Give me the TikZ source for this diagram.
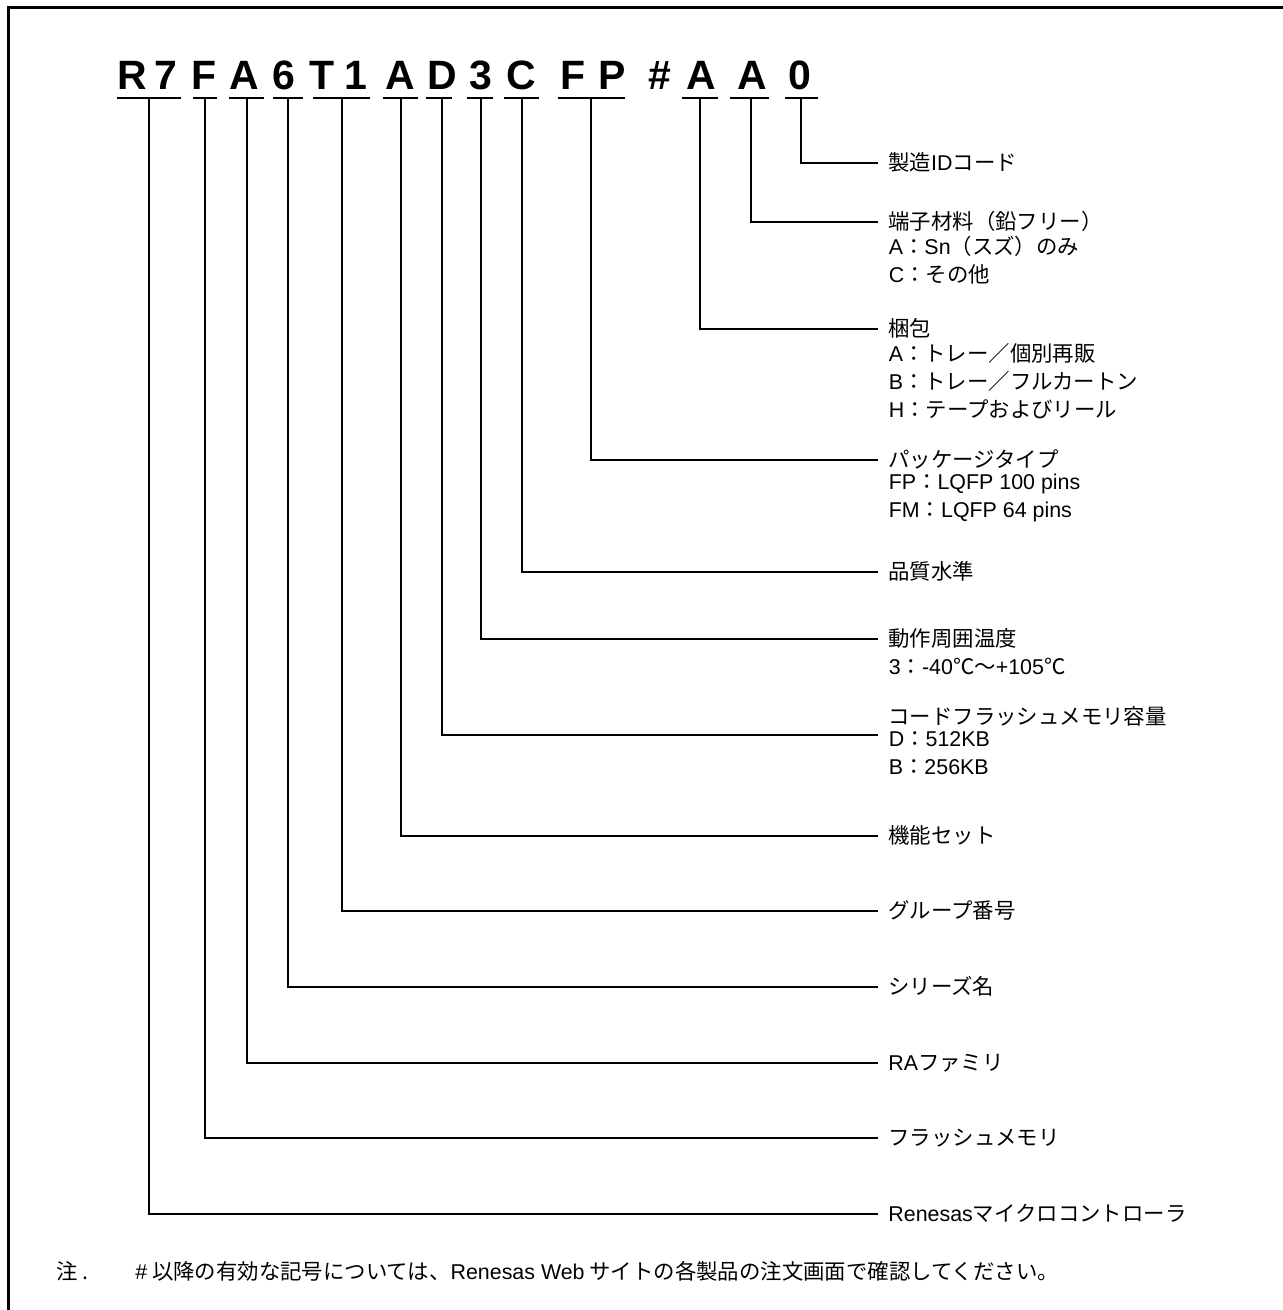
\documentclass[tikz,border=0pt]{standalone}
\usepackage{fontspec}
\setmainfont{Liberation Sans}
\newfontfamily\jp{Noto Sans CJK JP}
\newcommand\latn[1]{{\rmfamily #1}}
\newcommand\lstrut{\rule[-3.4pt]{0pt}{14pt}}
\tikzset{
  pn/.style={anchor=base, inner sep=0pt, font=\fontsize{20.5}{22}\selectfont\bfseries},
  lbl/.style={anchor=west, inner xsep=5pt, inner ysep=0pt, font=\fontsize{10.7}{14}\selectfont\jp, execute at begin node=\lstrut},
  sub/.style={anchor=north west, inner sep=0pt, align=left, font=\fontsize{10.7}{14}\selectfont\jp, execute at begin node=\lstrut},
  wire/.style={line width=0.75pt}
}
\begin{document}
\begin{tikzpicture}[x=0.5pt, y=-0.5pt]
\useasboundingbox (0,0) rectangle (1282,1310);
\draw [line width=1.5pt](8,1330)--(8,8)--(1300,8);

% part number
\foreach \ch/\x [count=\i] in {R/132,7/166,F/204,A/244,6/284,T/322,1/356,A/400,D/442,3/481,C/521,F/573,P/612,\#/660,A/701,A/752,0/800}
  \node [pn] (c\i) at (\x,90) {\ch};
\foreach \a/\b in {117/181,193/217,229/264,273/303,313/370,383/418,426/452,467/493,504/539,558/625,682/718,730/769,785/818}
  \draw [wire](\a,98)--(\b,98);

% labels
\node [lbl] (l-id) at (878,163) {製造\latn{ID}コード};
\node [lbl] (l-tanshi) at (878,222) {端子材料（鉛フリー）};
\node [sub] at ([yshift=-3.4pt]l-tanshi.text) {\latn{A}：\latn{Sn}（スズ）のみ\\\lstrut\latn{C}：その他};
\node [lbl] (l-konpo) at (878,329) {梱包};
\node [sub] at ([yshift=-3.4pt]l-konpo.text) {\latn{A}：トレー／個別再販\\\lstrut\latn{B}：トレー／フルカートン\\\lstrut\latn{H}：テープおよびリール};
\node [lbl] (l-pkg) at (878,460) {パッケージタイプ};
\node [sub] at ([yshift=-3.4pt]l-pkg.text) {\latn{FP}：\latn{LQFP 100 pins}\\\lstrut\latn{FM}：\latn{LQFP 64 pins}};
\node [lbl] (l-qual) at (878,572) {品質水準};
\node [lbl] (l-temp) at (878,639) {動作周囲温度};
\node [sub] at ([yshift=-3.4pt]l-temp.text) {\latn{3}：\latn{-40}℃～\latn{+105}℃};
\node [lbl] (l-code) at (878,717) {コードフラッシュメモリ容量};
\node [sub] at ([yshift=-3.4pt]l-code.text) {\latn{D}：\latn{512KB}\\\lstrut\latn{B}：\latn{256KB}};
\node [lbl] (l-func) at (878,836) {機能セット};
\node [lbl] (l-group) at (878,911) {グループ番号};
\node [lbl] (l-series) at (878,987) {シリーズ名};
\node [lbl] (l-ra) at (878,1063) {\latn{RA}ファミリ};
\node [lbl] (l-flash) at (878,1138) {フラッシュメモリ};
\node [lbl] (l-rene) at (878,1214) {\latn{Renesas}マイクロコントローラ};

% connectors
\foreach \x/\n in {149/rene,205/flash,247/ra,288/series,342/group,401/func,481/temp,522/qual,591/pkg,700/konpo,751/tanshi,801/id}{
  \coordinate (u-\n) at (\x,98);
  \draw [wire](u-\n)|-(l-\n.west);
}
\coordinate (u-code) at (442,98);
\draw [wire](u-code)|-([yshift=-9pt]l-code.west);

% note
\node [lbl, inner xsep=0pt] (note) at (56,1272) {注 .};
\node [lbl, inner xsep=0pt] (notetext) at (135,1272) {\latn{\#} 以降の有効な記号については、\latn{Renesas Web} サイトの各製品の注文画面で確認してください。};
\end{tikzpicture}
\end{document}
